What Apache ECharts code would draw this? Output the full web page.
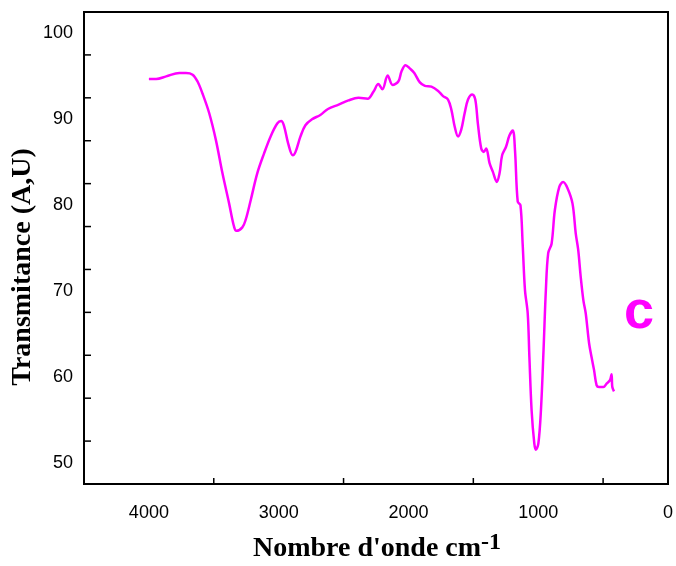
<!DOCTYPE html>
<html>
<head>
<meta charset="utf-8">
<script src="https://cdn.jsdelivr.net/npm/echarts@6/dist/echarts.min.js"></script>
<style>
  html, body { margin: 0; padding: 0; background: #fff; }
  #chart { width: 676px; height: 566px; }
</style>
</head>
<body>
<div id="chart"></div>
<script>
// FTIR spectrum: wavenumber (cm-1) and transmittance (A,U)
var wavenumber = [
  4000, 3944, 3867, 3765, 3714, 3663, 3625, 3587, 3535, 3484,
  3433, 3382, 3344, 3326, 3280, 3254, 3215, 3165, 3113, 3062,
  3011, 2981, 2960, 2927, 2891, 2870, 2832, 2794, 2743, 2679,
  2620, 2538, 2462, 2385, 2314, 2270, 2232, 2201, 2160, 2122,
  2078, 2053, 2022, 1988, 1955, 1912, 1873, 1823, 1771, 1733,
  1695, 1669, 1643, 1618, 1593, 1567, 1541, 1508, 1485, 1465,
  1439, 1419, 1401, 1375, 1350, 1319, 1298, 1278, 1248, 1222,
  1196, 1179, 1158, 1137, 1120, 1102, 1081, 1068, 1051, 1030,
  1018, 999, 979, 959, 941, 923, 897, 872, 838, 808,
  775, 736, 711, 692, 673, 652, 634, 608, 588, 570,
  550, 531, 498, 473, 447, 435, 429, 416
];
var transmittance = [
  94.7, 94.7, 95.0, 95.4, 95.4, 95.2, 94.4, 93.0, 90.7, 87.6,
  83.7, 80.2, 77.5, 77.0, 77.4, 78.3, 80.6, 83.7, 86.0, 88.0,
  89.5, 89.8, 89.3, 87.2, 85.8, 86.2, 88.0, 89.3, 90.0, 90.5,
  91.2, 91.7, 92.2, 92.5, 92.4, 93.2, 94.1, 93.5, 95.1, 94.0,
  94.4, 95.6, 96.3, 95.9, 95.4, 94.3, 93.9, 93.8, 93.3, 92.7,
  92.3, 91.1, 89.1, 88.0, 88.8, 90.7, 92.3, 92.9, 92.3, 89.5,
  86.6, 86.2, 86.6, 84.9, 83.9, 82.7, 83.7, 85.8, 86.8, 88.1,
  88.7, 86.4, 80.4, 80.0, 75.5, 70.1, 67.4, 62.3, 56.1, 52.2,
  51.5, 52.2, 56.1, 63.1, 70.1, 74.4, 75.5, 79.4, 82.1, 82.7,
  82.0, 80.2, 76.7, 74.8, 71.7, 68.9, 67.4, 63.9, 62.2, 60.8,
  59.0, 58.8, 58.8, 59.2, 59.6, 60.3, 58.8, 58.3
];

// Axis annotations
var xLabelValues = [0, 1000, 2000, 3000, 4000];
var xTickValues = [500, 1500, 2500, 3500];
var yLabelValues = [50, 60, 70, 80, 90, 100];
var yTickValues = [52.5, 57.5, 62.5, 67.5, 72.5, 77.5, 82.5, 87.5, 92.5, 97.5];

var xTitle = "Nombre d'onde cm";
var xTitleSup = "-1";
var yTitle = "Transmitance (A,U)";
var sampleTag = "c";

var Y_MIN = 47.5, Y_MAX = 102.5, X_MIN = 0, X_MAX = 4500;

var points = wavenumber.map(function (w, i) { return [w, transmittance[i]]; });

var chart = echarts.init(document.getElementById('chart'), null, { renderer: 'canvas' });

var tickFont = { color: '#000', fontFamily: 'Liberation Sans, Arial, sans-serif', fontSize: 18 };
var plainNumber = function (v) { return String(v); };

// short inward tick marks drawn on the plot's bottom and left edges
function xTickItem(params, api) {
  var p = api.coord([api.value(0), Y_MIN]);
  return { type: 'line', shape: { x1: p[0], y1: p[1], x2: p[0], y2: p[1] - 6 },
           style: { stroke: '#000', lineWidth: 1.5 } };
}
function yTickItem(params, api) {
  var p = api.coord([X_MAX, api.value(0)]);
  return { type: 'line', shape: { x1: p[0], y1: p[1], x2: p[0] + 7, y2: p[1] },
           style: { stroke: '#000', lineWidth: 1.5 } };
}

chart.setOption({
  animation: false,
  backgroundColor: '#fff',
  grid: {
    left: 84, top: 12, right: 5, bottom: 82,
    show: true, borderColor: '#000', borderWidth: 2, backgroundColor: 'transparent'
  },
  xAxis: {
    type: 'value',
    inverse: true,
    min: X_MIN, max: X_MAX,
    position: 'bottom',
    splitLine: { show: false },
    axisLine: { show: true, onZero: false, lineStyle: { color: '#000', width: 2 } },
    axisTick: { show: false },
    axisLabel: Object.assign({ customValues: xLabelValues, margin: 20, formatter: plainNumber }, tickFont)
  },
  yAxis: {
    type: 'value',
    min: Y_MIN, max: Y_MAX,
    position: 'left',
    splitLine: { show: false },
    axisLine: { show: true, onZero: false, lineStyle: { color: '#000', width: 2 } },
    axisTick: { show: false },
    axisLabel: Object.assign({ customValues: yLabelValues, margin: 11, formatter: plainNumber }, tickFont)
  },
  series: [
    {
      type: 'line',
      data: points,
      showSymbol: false,
      smooth: 0.35,
      lineStyle: { color: '#ff00ff', width: 2.5 },
      itemStyle: { color: '#ff00ff' },
      z: 3
    },
    {
      type: 'custom',
      data: xTickValues.map(function (v) { return [v]; }),
      encode: { x: 0 },
      renderItem: xTickItem,
      clip: false,
      silent: true,
      z: 4
    },
    {
      type: 'custom',
      data: yTickValues.map(function (v) { return [v]; }),
      encode: { y: 0 },
      renderItem: yTickItem,
      clip: false,
      silent: true,
      z: 4
    }
  ],
  graphic: [
    {
      type: 'text',
      x: 377, y: 549,
      style: {
        text: '{b|' + xTitle + '}{s|' + xTitleSup + '}',
        align: 'center', verticalAlign: 'middle',
        rich: {
          b: { fontFamily: 'Liberation Serif, Times New Roman, serif', fontWeight: 'bold', fontSize: 28, fill: '#000', color: '#000' },
          s: { fontFamily: 'Liberation Serif, Times New Roman, serif', fontWeight: 'bold', fontSize: 24, fill: '#000', color: '#000', verticalAlign: 'top', padding: [0, 0, 12, 0] }
        }
      }
    },
    {
      type: 'text',
      x: 23, y: 267,
      rotation: Math.PI / 2,
      style: {
        text: yTitle,
        fill: '#000',
        font: 'bold 28px "Liberation Serif", "Times New Roman", serif',
        align: 'center', verticalAlign: 'middle'
      }
    },
    {
      type: 'text',
      x: 639, y: 313,
      style: {
        text: sampleTag,
        fill: '#ff00ff',
        font: 'bold 54px "Liberation Sans", Arial, sans-serif',
        align: 'center', verticalAlign: 'middle'
      }
    }
  ]
});
</script>
</body>
</html>
